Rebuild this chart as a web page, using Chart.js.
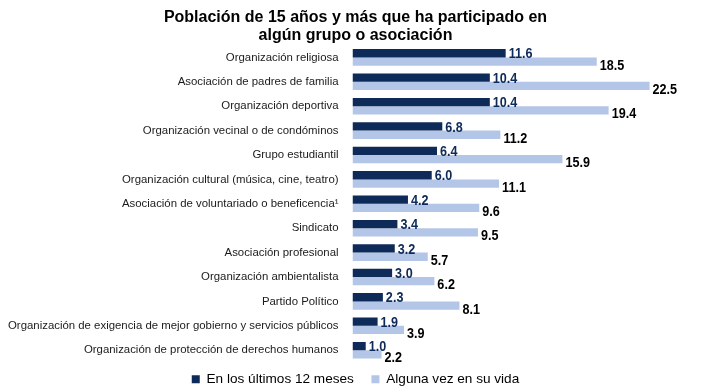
<!DOCTYPE html>
<html>
<head>
<meta charset="utf-8">
<script src="https://cdn.jsdelivr.net/npm/chart.js@4.4.1/dist/chart.umd.min.js"></script>
<style>
  html, body { margin: 0; padding: 0; background: #fff; }
  #wrap { width: 719px; height: 392px; position: relative; }
</style>
</head>
<body>
<div id="wrap"><canvas id="myChart"></canvas></div>
<script>
// categorias y valores (porcentaje)
var categorias = [
    "Organización religiosa",
    "Asociación de padres de familia",
    "Organización deportiva",
    "Organización vecinal o de condóminos",
    "Grupo estudiantil",
    "Organización cultural (música, cine, teatro)",
    "Asociación de voluntariado o beneficencia¹",
    "Sindicato",
    "Asociación profesional",
    "Organización ambientalista",
    "Partido Político",
    "Organización de exigencia de mejor gobierno y servicios públicos",
    "Organización de protección de derechos humanos"
];
var ultimos12 = [11.6, 10.4, 10.4, 6.8, 6.4, 6.0, 4.2, 3.4, 3.2, 3.0, 2.3, 1.9, 1.0];
var algunaVez = [18.5, 22.5, 19.4, 11.2, 15.9, 11.1, 9.6, 9.5, 5.7, 6.2, 8.1, 3.9, 2.2];
var titulo = ["Población de 15 años y más que ha participado en", "algún grupo o asociación"];

var azulOscuro = '#0e2a58';
var azulClaro = '#b4c6e7';

// etiquetas de valor al final de cada barra (letra angosta: se comprime en x)
var valueLabels = {
    id: 'valueLabels',
    afterDatasetsDraw: function(chart) {
        var c = chart.ctx;
        var sx = 0.84;
        chart.data.datasets.forEach(function(ds, i) {
            var meta = chart.getDatasetMeta(i);
            meta.data.forEach(function(bar, j) {
                c.save();
                c.textAlign = 'left';
                c.textBaseline = 'middle';
                var x = bar.x + 3, y;
                c.font = 'bold 15px "Liberation Sans", Arial, sans-serif';
                if (i == 0) {
                    c.fillStyle = azulOscuro;
                    y = bar.y + 1;
                } else {
                    c.fillStyle = '#000';
                    y = bar.y + 4;
                }
                c.translate(x, y);
                c.scale(sx, 1);
                c.fillText(ds.data[j].toFixed(1), 0, 0);
                c.restore();
            });
        });
    }
};

var ctx = document.getElementById("myChart").getContext('2d');
var myChart = new Chart(ctx, {
    type: 'bar',
    data: {
        labels: categorias,
        datasets: [{
            label: 'En los últimos 12 meses',
            data: ultimos12,
            backgroundColor: azulOscuro,
            borderWidth: 0
        }, {
            label: 'Alguna vez en su vida',
            data: algunaVez,
            backgroundColor: azulClaro,
            borderWidth: 0
        }]
    },
    options: {
        indexAxis: 'y',
        responsive: true,
        maintainAspectRatio: false,
        animation: false,
        datasets: {
            bar: { categoryPercentage: 0.68, barPercentage: 1.0 }
        },
        layout: { padding: { left: 2, right: 10, top: 0, bottom: -4 } },
        scales: {
            x: {
                display: false,
                min: 0,
                max: 27
            },
            y: {
                grid: { display: false },
                border: { display: false },
                ticks: {
                    color: '#1a1a1a',
                    padding: 6,
                    font: { family: '"Liberation Sans", Arial, sans-serif', size: 11.4 }
                }
            }
        },
        plugins: {
            title: {
                display: true,
                text: titulo,
                color: '#000',
                padding: { top: 9, bottom: 1 },
                font: { family: '"Liberation Sans", Arial, sans-serif', size: 16, weight: 'bold', lineHeight: 1.1 }
            },
            legend: {
                position: 'bottom',
                labels: {
                    boxWidth: 8,
                    boxHeight: 8,
                    padding: 10,
                    color: '#000',
                    font: { family: '"Liberation Sans", Arial, sans-serif', size: 13.6 },
                    // un poco mas de separacion entre las dos entradas
                    generateLabels: function(chart) {
                        var items = Chart.defaults.plugins.legend.labels.generateLabels(chart);
                        items[0].text = items[0].text + '  ';
                        return items;
                    }
                }
            },
            tooltip: { enabled: false }
        }
    },
    plugins: [valueLabels]
});
</script>
</body>
</html>
